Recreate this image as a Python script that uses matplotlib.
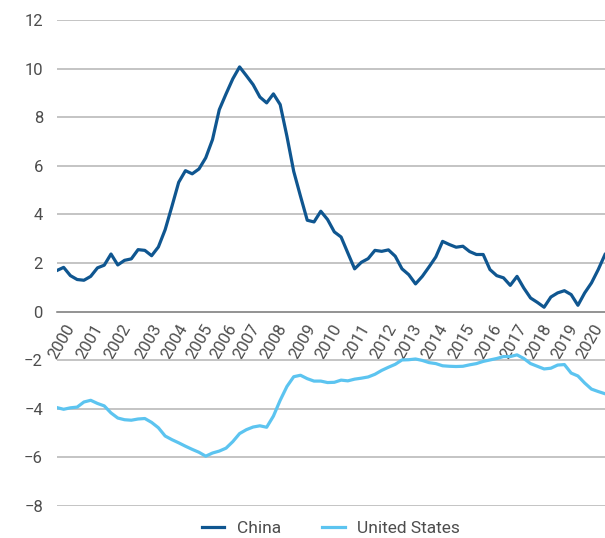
import matplotlib
matplotlib.use("Agg")
import matplotlib.pyplot as plt
import numpy as np

plt.rcParams['font.family'] = ['Roboto', 'DejaVu Sans']

# quarterly values, 2000Q1 .. 2020Q2
china = [1.69, 1.82, 1.48, 1.32, 1.29, 1.45, 1.80, 1.91, 2.37, 1.92,
         2.11, 2.17, 2.55, 2.52, 2.30, 2.66, 3.37, 4.33, 5.32, 5.80,
         5.67, 5.87, 6.33, 7.08, 8.31, 8.96, 9.58, 10.07, 9.71, 9.34,
         8.83, 8.59, 8.96, 8.52, 7.21, 5.77, 4.75, 3.76, 3.69, 4.13,
         3.79, 3.28, 3.07, 2.41, 1.76, 2.03, 2.18, 2.52, 2.48, 2.54,
         2.28, 1.76, 1.52, 1.14, 1.45, 1.84, 2.25, 2.89, 2.76, 2.65,
         2.69, 2.47, 2.35, 2.35, 1.73, 1.48, 1.39, 1.08, 1.45, 0.97,
         0.56, 0.38, 0.18, 0.60, 0.77, 0.86, 0.70, 0.26, 0.77, 1.18,
         1.73, 2.35]

us = [-3.95, -4.02, -3.96, -3.93, -3.72, -3.65, -3.78, -3.88, -4.17, -4.38,
      -4.45, -4.47, -4.42, -4.40, -4.56, -4.78, -5.12, -5.27, -5.40, -5.54,
      -5.67, -5.79, -5.95, -5.82, -5.74, -5.62, -5.35, -5.02, -4.86, -4.75,
      -4.70, -4.76, -4.30, -3.65, -3.08, -2.68, -2.62, -2.76, -2.86, -2.86,
      -2.92, -2.91, -2.82, -2.85, -2.78, -2.74, -2.69, -2.58, -2.42, -2.29,
      -2.17, -1.99, -1.98, -1.95, -2.01, -2.10, -2.14, -2.23, -2.25, -2.26,
      -2.25, -2.19, -2.14, -2.05, -1.99, -1.93, -1.85, -1.85, -1.78, -1.93,
      -2.14, -2.25, -2.36, -2.33, -2.20, -2.18, -2.53, -2.65, -2.94, -3.19,
      -3.29, -3.38]

years = [str(y) for y in range(2000, 2021)]
# where the year labels sit along the quarter index
year_pos = [2.11, 6.25, 10.38, 14.96, 18.80, 22.50, 26.04, 29.44, 33.43, 37.71,
            41.55, 45.68, 49.67, 53.37, 57.21, 61.20, 65.19, 68.88, 72.58, 76.42, 80.11]

txt = '#4d4d4d'
fig = plt.figure(figsize=(6.05, 5.38), dpi=100)
ax = fig.add_axes([0.094, 0.0595, 0.906, 0.9033])

x = np.arange(len(china))
ax.plot(x, china, color='#0f5690', lw=2.3, label='China', solid_joinstyle='round')
ax.plot(x, us, color='#5cc4f0', lw=2.3, label='United States', solid_joinstyle='round')

ax.set_xlim(0, 81)
ax.set_ylim(-8, 12)
ax.set_yticks(np.arange(-8, 13, 2))
ax.grid(axis='y', color='#bfbfbf', lw=1.3)
ax.set_axisbelow(True)

for s in ['top', 'right', 'left']:
    ax.spines[s].set_visible(False)
ax.spines['bottom'].set_position(('data', 0))
ax.spines['bottom'].set_color('#8c8c8c')
ax.spines['bottom'].set_linewidth(1.2)

ax.set_xticks(year_pos)
ax.set_xticklabels(years)
ax.tick_params(axis='x', length=0, pad=10, labelsize=12, labelcolor=txt)
ax.tick_params(axis='y', length=0, pad=10, labelsize=12, labelcolor=txt)
plt.setp(ax.get_xticklabels(), rotation=60, ha='right', va='center', rotation_mode='anchor')

fig.legend(loc='center', bbox_to_anchor=(0.547, 0.017), ncol=2, frameon=False,
           fontsize=12.5, labelcolor=txt, handlelength=1.3, columnspacing=2.4,
           handletextpad=0.7)

fig.savefig('out.png', dpi=100)
